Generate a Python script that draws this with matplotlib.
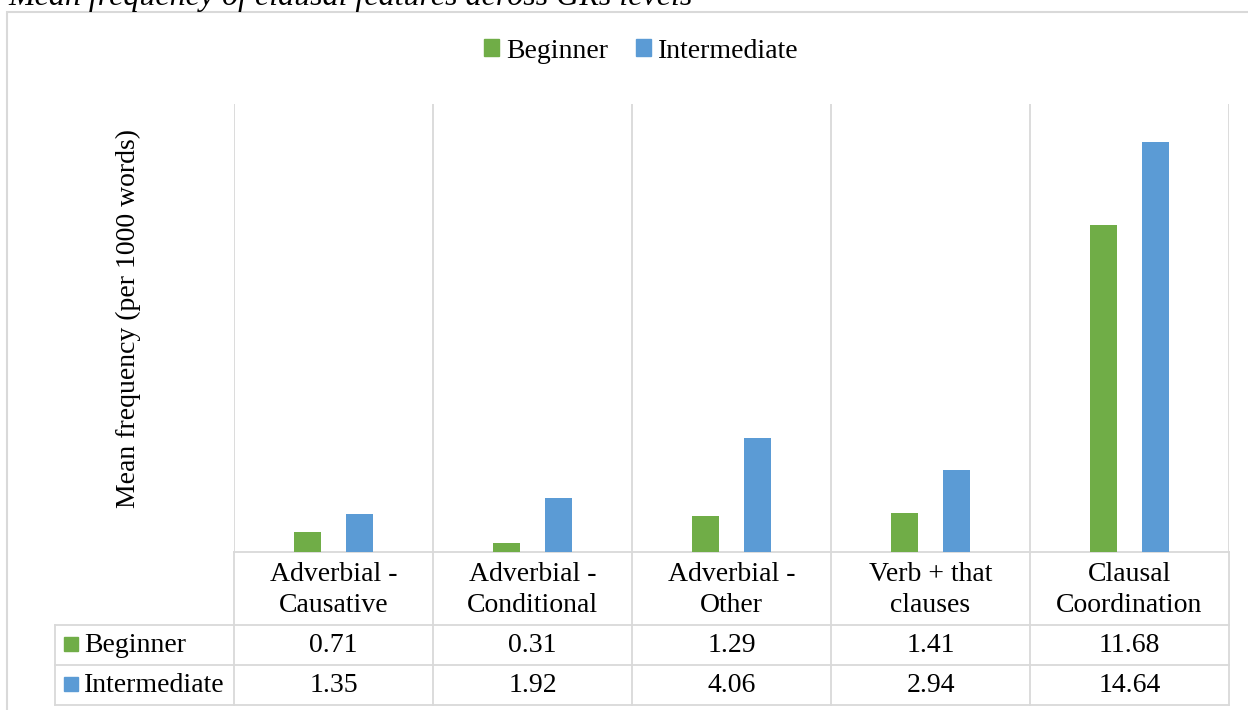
import matplotlib
matplotlib.use("Agg")
import matplotlib.pyplot as plt
from matplotlib.patches import Rectangle
from matplotlib.lines import Line2D
from matplotlib.transforms import blended_transform_factory

categories = ["Adverbial -\nCausative", "Adverbial -\nConditional", "Adverbial -\nOther",
              "Verb + that\nclauses", "Clausal\nCoordination"]
series_names = ["Beginner", "Intermediate"]
beginner = [0.71, 0.31, 1.29, 1.41, 11.68]
intermediate = [1.35, 1.92, 4.06, 2.94, 14.64]
colors = ["#70AD47", "#5B9BD5"]
grid_color = "#D9D9D9"
title = "Mean frequency of clausal features across GRs levels"
ylabel = "Mean frequency (per 1000 words)"

plt.rcParams["font.family"] = ["Liberation Serif", "DejaVu Serif"]

W, H = 1248, 710
fig = plt.figure(figsize=(W / 100, H / 100), dpi=100)

def fx(px):
    return px / W

def fy(py):
    return 1 - py / H

# plot area in pixels
L, R, T, B = 234, 1229, 104, 552
ax = fig.add_axes([fx(L), fy(B), fx(R) - fx(L), (B - T) / H])
n = len(categories)
ax.set_xlim(0, n)
ax.set_ylim(0, 16)
for s in ax.spines.values():
    s.set_visible(False)
ax.set_xticks([])
ax.set_yticks([])

xs = [i + 0.5 for i in range(n)]
bw = 0.138
off = 0.13
ax.bar([x - off for x in xs], beginner, width=bw, color=colors[0], zorder=3)
ax.bar([x + off for x in xs], intermediate, width=bw, color=colors[1], zorder=3)

lw = 1.3
# vertical gridlines (category dividers)
for i in range(n + 1):
    ax.axvline(i, color=grid_color, lw=lw, zorder=1)

tr = blended_transform_factory(ax.transData, ax.transAxes)

def ya(py):
    return (B - py) / (B - T)

def xd(px):
    return (px - L) / ((R - L) / n)

# baseline and table lines
row_y = [625, 665, 705]
ax.add_line(Line2D([0, n], [0, 0], transform=tr, color=grid_color, lw=lw, clip_on=False, zorder=2))
for yy in row_y:
    ax.add_line(Line2D([xd(55), n], [ya(yy), ya(yy)], transform=tr, color=grid_color, lw=lw, clip_on=False))
for i in range(n + 1):
    ax.add_line(Line2D([i, i], [0, ya(705)], transform=tr, color=grid_color, lw=lw, clip_on=False))
ax.add_line(Line2D([xd(55), xd(55)], [ya(625), ya(705)], transform=tr, color=grid_color, lw=lw, clip_on=False))

fs = 20
# category labels
for x, c in zip(xs, categories):
    ax.text(x, ya(590), c, transform=tr, ha="center", va="center", fontsize=fs,
            linespacing=1.32, clip_on=False)

# table rows
rows = [beginner, intermediate]
row_centers = [645, 685]
for name, vals, col, yc in zip(series_names, rows, colors, row_centers):
    ax.add_patch(Rectangle((xd(64), ya(yc + 6)), xd(78) - xd(64), ya(yc - 8) - ya(yc + 6),
                           transform=tr, color=col, clip_on=False))
    ax.text(xd(84), ya(yc), name, transform=tr, ha="left", va="center", fontsize=fs, clip_on=False)
    for x, v in zip(xs, vals):
        ax.text(x, ya(yc), f"{v:.2f}", transform=tr, ha="center", va="center", fontsize=fs, clip_on=False)

# y label
fig.text(fx(128), fy(318), ylabel, rotation=90, ha="center", va="center", fontsize=fs)

# legend
handles = [Rectangle((0, 0), 1, 1, color=c) for c in colors]
fig.legend(handles, series_names, loc="center", bbox_to_anchor=(fx(641), fy(51)), ncol=2,
           frameon=False, fontsize=fs, handlelength=0.55, handleheight=0.55,
           handletextpad=0.25, columnspacing=1.0, borderaxespad=0, borderpad=0)

# chart border
fig.add_artist(Rectangle((fx(7), fy(720)), fx(1260) - fx(7), (720 - 12) / H,
                         transform=fig.transFigure, fill=False, edgecolor=grid_color, lw=1.5))

# title (partially cut at top, as in the reference)
fig.text(fx(8), fy(5), title, ha="left", va="baseline", fontsize=23, style="italic")

fig.savefig("out.png", dpi=100)
